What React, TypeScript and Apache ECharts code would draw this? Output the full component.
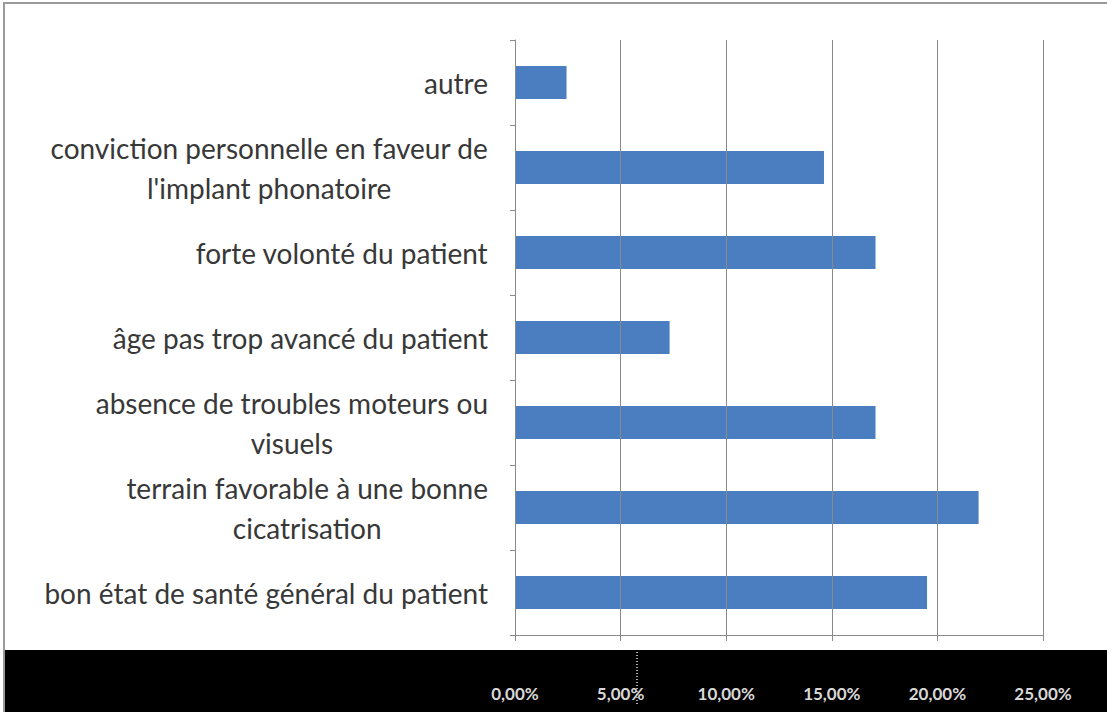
import React, { useEffect, useRef } from "react";
import * as echarts from "echarts";

const categories = [
  "autre",
  "conviction personnelle en faveur de\nl'implant phonatoire",
  "forte volonté du patient",
  "âge pas trop avancé du patient",
  "absence de troubles moteurs ou\nvisuels",
  "terrain favorable à une bonne\ncicatrisation",
  "bon état de santé général du patient",
];
const values = [2.44, 14.63, 17.07, 7.32, 17.07, 21.95, 19.51];
const tickLabels = ["0,00%", "5,00%", "10,00%", "15,00%", "20,00%", "25,00%"];

const FONT = "Lato, 'Open Sans', sans-serif";

export default function App() {
  const ref = useRef<HTMLDivElement>(null);
  useEffect(() => {
    if (!ref.current) return;
    const chart = echarts.init(ref.current, null, { renderer: "svg" });
    chart.setOption({
      animation: false,
      backgroundColor: "#ffffff",
      grid: { left: 515, right: 64, top: 40, bottom: 77 },
      graphic: [
        {
          type: "rect",
          shape: { x: 4, y: 3, width: 1110, height: 720 },
          style: { fill: "none", stroke: "#9a9a9a", lineWidth: 2 },
          silent: true,
          z: -1,
        },
        {
          type: "rect",
          shape: { x: 5, y: 650, width: 1102, height: 62 },
          style: { fill: "#000000" },
          silent: true,
          z: 0,
        },
        {
          type: "line",
          shape: { x1: 637, y1: 652, x2: 637, y2: 704 },
          style: { stroke: "#aaaaaa", lineWidth: 2, lineDash: [1, 2] },
          silent: true,
          z: 1,
        },
      ],
      xAxis: {
        type: "value",
        min: 0,
        max: 25,
        interval: 5,
        axisLine: { show: true, lineStyle: { color: "#8a8a8a", width: 1 } },
        axisTick: { show: true, length: 6, lineStyle: { color: "#8a8a8a" } },
        splitLine: { show: true, lineStyle: { color: "#8a8a8a", width: 1 } },
        axisLabel: {
          margin: 50,
          color: "#d8d8d8",
          fontSize: 17,
          fontFamily: FONT,
          fontWeight: "bold",
          formatter: (v: number) => tickLabels[Math.round(v / 5)] ?? "",
        },
        z: 5,
      },
      yAxis: {
        type: "category",
        inverse: true,
        data: categories,
        axisLine: { show: true, lineStyle: { color: "#8a8a8a", width: 1 } },
        axisTick: { show: true, length: 5, lineStyle: { color: "#8a8a8a" } },
        axisLabel: {
          margin: 27,
          color: "#383838",
          fontSize: 28,
          fontFamily: FONT,
          align: "right",
          formatter: (v: string) =>
            v
              .split("\n")
              .map((l) => `{c|${l}}`)
              .join("\n"),
          rich: {
            c: {
              align: "center",
              fontSize: 28,
              lineHeight: 40,
              fontFamily: FONT,
              color: "#383838",
            },
          },
        },
      },
      series: [
        {
          type: "bar",
          data: values,
          barWidth: 33,
          itemStyle: { color: "#4a7ec0" },
        },
      ],
    });
    return () => chart.dispose();
  }, []);
  return (
    <div
      ref={ref}
      style={{ position: "fixed", left: 0, top: 0, width: 1107, height: 712 }}
    />
  );
}
